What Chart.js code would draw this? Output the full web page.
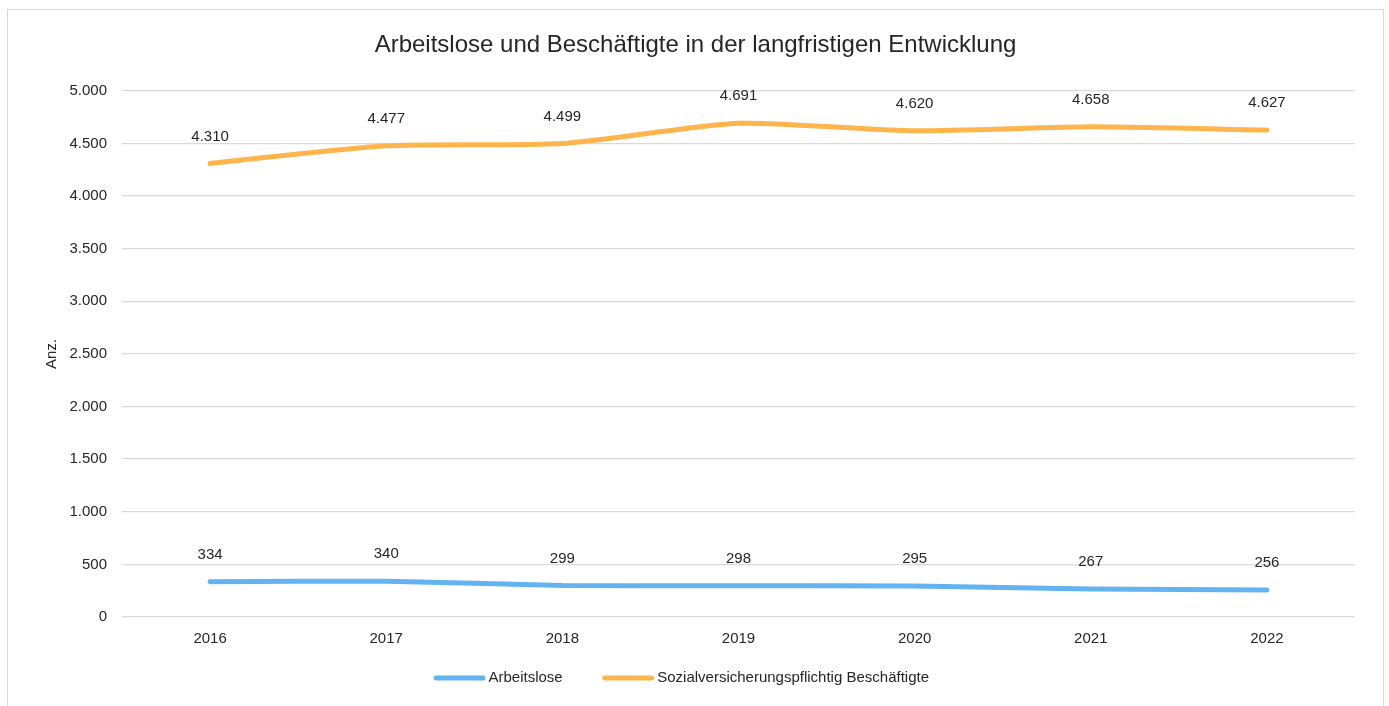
<!DOCTYPE html>
<html lang="de">
<head>
<meta charset="utf-8">
<title>Arbeitslose und Beschäftigte</title>
<script src="https://cdn.jsdelivr.net/npm/chart.js@4.4.1/dist/chart.umd.min.js"></script>
<style>
  html, body { margin:0; padding:0; background:#fff; overflow:hidden; }
  #frame { position:absolute; left:7px; top:9px; width:1375px; height:760px; border:1.5px solid #d9d9d9; }
  #chart { position:absolute; left:0; top:0; }
</style>
</head>
<body>
<div id="frame"></div>
<canvas id="chart" width="1389" height="706"></canvas>
<script>
/* ── Arbeitslose / Beschäftigte, 2016–2022 ─────────────── */
const years         = ["2016", "2017", "2018", "2019", "2020", "2021", "2022"];
const arbeitslose   = [334, 340, 299, 298, 295, 267, 256];
const beschaeftigte = [4310, 4477, 4499, 4691, 4620, 4658, 4627];
const yTicks        = [0, 500, 1000, 1500, 2000, 2500, 3000, 3500, 4000, 4500, 5000];

const textColor = "#262626";
const gridColor = "#d9d9d9";
const fontFamily = "'Liberation Sans', Arial, sans-serif";

// German thousands separator: 4691 -> "4.691"
const fmt = v => String(v).replace(/\B(?=(\d{3})+(?!\d))/g, ".");

Chart.defaults.font.family = fontFamily;
Chart.defaults.font.size = 15;
Chart.defaults.color = textColor;

// value labels above every point
const pointLabels = {
  id: "pointLabels",
  afterDatasetsDraw(chart) {
    const { ctx } = chart;
    ctx.save();
    ctx.font = "15px " + fontFamily;
    ctx.fillStyle = textColor;
    ctx.textAlign = "center";
    ctx.textBaseline = "middle";
    chart.data.datasets.forEach((ds, i) => {
      chart.getDatasetMeta(i).data.forEach((pt, j) => {
        ctx.fillText(fmt(ds.data[j]), pt.x, pt.y - 27);
      });
    });
    ctx.restore();
  }
};

// legend row under the x axis: short line + label per dataset
const lineLegend = {
  id: "lineLegend",
  afterDraw(chart) {
    const { ctx } = chart;
    const lineLen = 47, textGap = 5.5, itemGap = 42;
    const y = chart.chartArea.bottom + 61;
    ctx.save();
    ctx.font = "15px " + fontFamily;
    const items = chart.data.datasets.map(ds => ({ ds, w: ctx.measureText(ds.label).width }));
    const total = items.reduce((s, it) => s + lineLen + textGap + it.w, 0) + itemGap * (items.length - 1);
    let x = chart.width / 2 - 12 - total / 2;
    ctx.textBaseline = "middle";
    ctx.textAlign = "left";
    items.forEach(({ ds, w }) => {
      ctx.strokeStyle = ds.borderColor;
      ctx.lineWidth = 5;
      ctx.lineCap = "round";
      ctx.beginPath();
      ctx.moveTo(x, y);
      ctx.lineTo(x + lineLen, y);
      ctx.stroke();
      ctx.fillStyle = textColor;
      ctx.fillText(ds.label, x + lineLen + textGap, y);
      x += lineLen + textGap + w + itemGap;
    });
    ctx.restore();
  }
};

new Chart(document.getElementById("chart").getContext("2d"), {
  type: "line",
  data: {
    labels: years,
    datasets: [
      { label:"Arbeitslose", data:arbeitslose, borderColor:"#63b3f0", backgroundColor:"#63b3f0",
        borderWidth:5, borderCapStyle:"round", borderJoinStyle:"round", tension:0.2, pointRadius:0 },
      { label:"Sozialversicherungspflichtig Beschäftigte", data:beschaeftigte, borderColor:"#ffb54c", backgroundColor:"#ffb54c",
        borderWidth:5, borderCapStyle:"round", borderJoinStyle:"round", tension:0.2, pointRadius:0 }
    ]
  },
  options: {
    responsive:false, animation:false,
    layout:{ padding:{ left:36, right:34, top:0, bottom:49 } },
    plugins: {
      title:{ display:true, text:"Arbeitslose und Beschäftigte in der langfristigen Entwicklung",
              font:{ size:24, weight:"normal" }, color:textColor, padding:{ top:31, bottom:31 } },
      legend:{ display:false },
      tooltip:{ enabled:false }
    },
    scales: {
      x:{ offset:true, grid:{ display:false }, border:{ display:false },
          ticks:{ padding:5, color:textColor },
          afterFit: s => { s.height = 40; } },
      y:{ min:0, max:5000, border:{ display:false },
          grid:{ color:gridColor, lineWidth:1.3, drawTicks:false },
          ticks:{ padding:15, color:textColor, callback: v => fmt(v) },
          afterBuildTicks: s => { s.ticks = yTicks.map(v => ({ value:v })); },
          title:{ display:true, text:"Anz.", color:textColor, font:{ size:15 }, padding:{ top:7, bottom:0 } },
          afterFit: s => { s.width = 86; } }
    }
  },
  plugins:[pointLabels, lineLegend]
});
</script>
</body>
</html>
